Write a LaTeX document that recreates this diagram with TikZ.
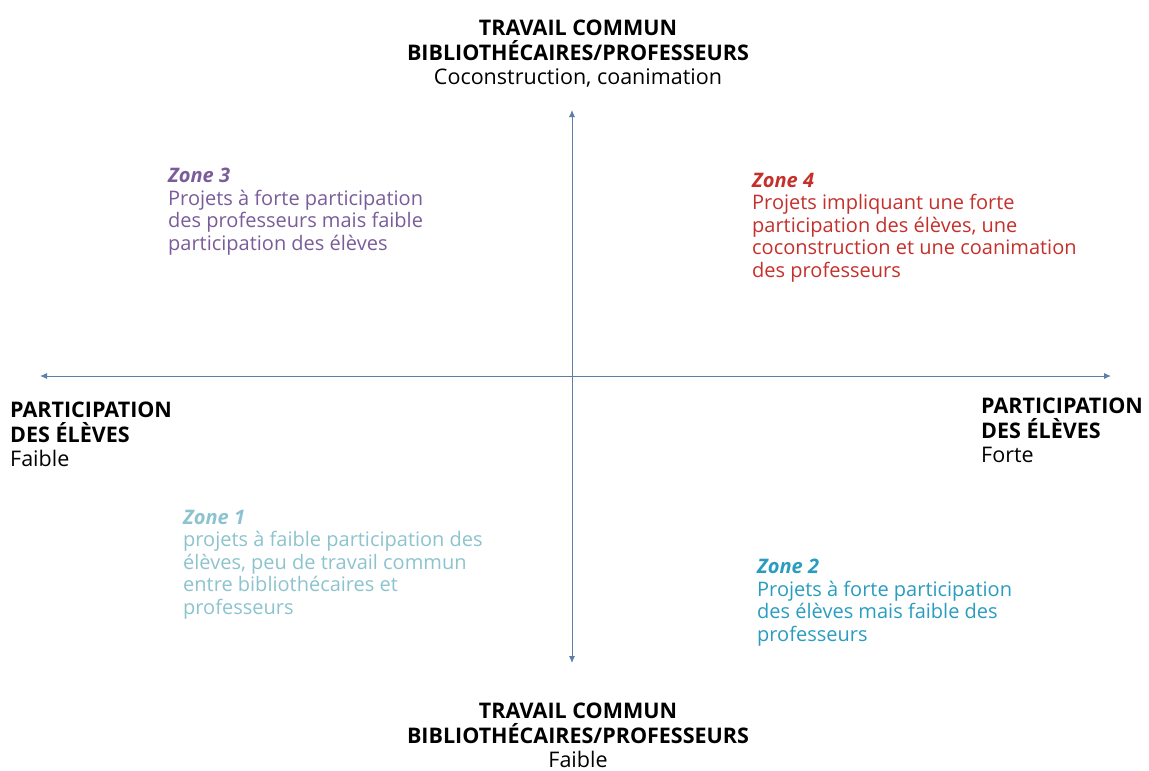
\documentclass[tikz,border=0pt]{standalone}
\usepackage{fontspec}
\setmainfont{Open Sans}
\usetikzlibrary{arrows.meta}
\definecolor{axe}{HTML}{5B7FA6}
\definecolor{zthree}{HTML}{7A5C9A}
\definecolor{zfour}{HTML}{C4302B}
\definecolor{zone}{HTML}{8CC3CE}
\definecolor{ztwo}{HTML}{2A9CBF}
\begin{document}
\begin{tikzpicture}[x=1pt,y=-1pt,
    txt/.style={font=\fontsize{21.5}{24.5}\selectfont,inner sep=0pt},
    zonetxt/.style={font=\fontsize{20}{22.5}\selectfont,inner sep=0pt,align=left,anchor=north west},
    axis/.style={axe,line width=0.9pt,-{Latex[length=7pt,width=6pt]}}]
    \useasboundingbox (0,0) rectangle (1149,771);
    % axes
    \coordinate (o) at (572,376);
    \coordinate (n) at (572,110);
    \coordinate (s) at (572,663);
    \coordinate (w) at (40,376);
    \coordinate (e) at (1111,376);
    \draw[axis] (o)--(n);
    \draw[axis] (o)--(s);
    \draw[axis] (o)--(w);
    \draw[axis] (o)--(e);
    % axis labels
    \node[txt,align=center,anchor=north] (haut) at (578,20)
        {\textbf{TRAVAIL COMMUN}\\\textbf{BIBLIOTH\'ECAIRES/PROFESSEURS}\\Coconstruction, coanimation};
    \node[txt,align=center,anchor=north] (bas) at (578,703)
        {\textbf{TRAVAIL COMMUN}\\\textbf{BIBLIOTH\'ECAIRES/PROFESSEURS}\\Faible};
    \node[txt,align=left,anchor=north west] (gauche) at (10,402)
        {\textbf{PARTICIPATION}\\\textbf{DES \'EL\`EVES}\\Faible};
    \node[txt,align=left,anchor=north west] (droite) at (981,398)
        {\textbf{PARTICIPATION}\\\textbf{DES \'EL\`EVES}\\Forte};
    % zones
    \node[zonetxt,zthree] (z3) at (168,168)
        {\textbf{\textit{Zone 3}}\\Projets \`a forte participation\\des professeurs mais faible\\participation des \'el\`eves};
    \node[zonetxt,zfour] (z4) at (752,173)
        {\textbf{\textit{Zone 4}}\\Projets impliquant une forte\\participation des \'el\`eves, une\\coconstruction et une coanimation\\des professeurs};
    \node[zonetxt,zone] (z1) at (183,510)
        {\textbf{\textit{Zone 1}}\\projets \`a faible participation des\\\'el\`eves, peu de travail commun\\entre biblioth\'ecaires et\\professeurs};
    \node[zonetxt,ztwo] (z2) at (757,559)
        {\textbf{\textit{Zone 2}}\\Projets \`a forte participation\\des \'el\`eves mais faible des\\professeurs};
\end{tikzpicture}
\end{document}
